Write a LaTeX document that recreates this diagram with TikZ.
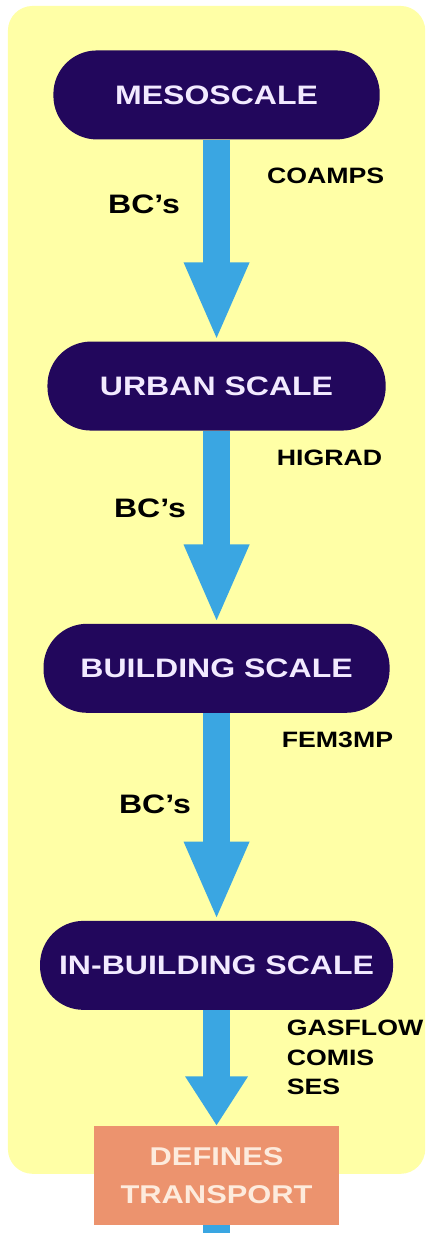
\documentclass[tikz,border=0pt]{standalone}
\usepackage{fontspec}
\setmainfont[FakeStretch=1.2]{Liberation Sans}
\usetikzlibrary{positioning,arrows.meta}

\definecolor{panel}{RGB}{255,255,166}
\definecolor{navy}{RGB}{34,7,92}
\definecolor{flow}{RGB}{58,166,226}
\definecolor{salmon}{RGB}{236,147,110}
\definecolor{pale}{RGB}{242,234,255}
\definecolor{peach}{RGB}{253,235,221}

\begin{document}
\begin{tikzpicture}[
x=1pt,
y=-1pt,
level/.style={
  rectangle,
  rounded corners=44pt,
  fill=navy,
  text=pale,
  font=\fontsize{27}{30}\selectfont\bfseries,
  minimum width=340pt,
  minimum height=90pt,
  inner sep=0pt
  },
result/.style={
  rectangle,
  fill=salmon,
  text=peach,
  font=\fontsize{26}{38}\selectfont\bfseries,
  align=center,
  minimum width=247pt,
  minimum height=100pt,
  inner sep=0pt
  },
bc/.style={
  font=\fontsize{27}{30}\selectfont\bfseries,
  inner sep=0pt,
  outer sep=0pt
  },
code/.style={
  font=\fontsize{22.5}{30}\selectfont\bfseries,
  align=left,
  inner sep=0pt,
  outer sep=0pt
  },
pass/.style={
  draw=flow,
  line width=28pt,
  -{Triangle[width=60pt,length=#1]}
  },
pass/.default=80pt
]
\fill[white] (0,0) rectangle (432,1247);
\fill[panel, rounded corners=25pt] (8,6) rectangle (430,1187);

% the four scales
\node[level, minimum width=330pt] (meso) at (219,96) {MESOSCALE};
\node[level, minimum width=342pt, below=204pt of meso] (urban) {URBAN SCALE};
\node[level, minimum width=350pt, below=195pt of urban] (bldg) {BUILDING SCALE};
\node[level, minimum width=357pt, below=210pt of bldg] (inbldg) {IN-BUILDING SCALE};
\node[result, below=117pt of inbldg] (transport) {DEFINES\\TRANSPORT};

% boundary conditions handed down
\draw[pass] (meso) -- node[pos=0.32, left=37pt, bc] {BC's}
  node[pos=0.18, right=51pt, code] {COAMPS} (urban);
\draw[pass] (urban) -- node[pos=0.40, left=31pt, bc] {BC's}
  node[pos=0.14, right=61pt, code] {HIGRAD} (bldg);
\draw[pass] (bldg) -- node[pos=0.44, left=26pt, bc] {BC's}
  node[pos=0.13, right=66pt, code] {FEM3MP} (inbldg);
\draw[pass=50pt] (inbldg) --
  node[pos=0.41, right=71pt, code] {GASFLOW\\COMIS\\SES} (transport);

% runs on below
\coordinate (out) at (219,1247);
\draw[draw=flow, line width=28pt] (transport) -- (out);
\end{tikzpicture}
\end{document}
